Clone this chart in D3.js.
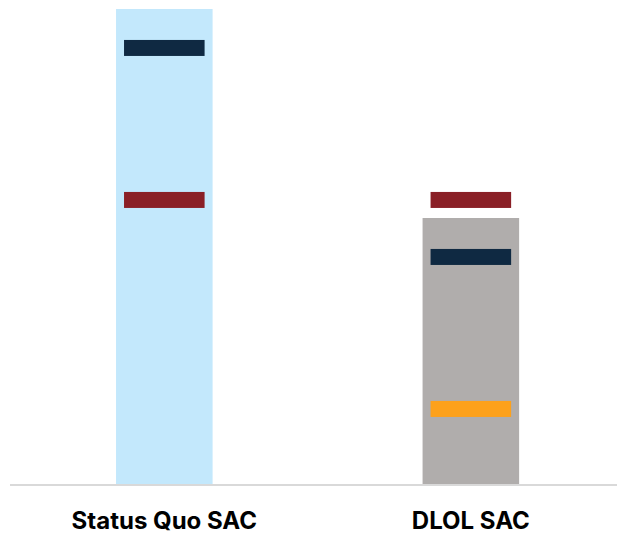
<!DOCTYPE html>
<html>
<head>
<meta charset="utf-8">
<script src="https://cdn.jsdelivr.net/npm/d3@7"></script>
<style>
  html, body { margin: 0; padding: 0; background: #ffffff; }
  svg { display: block; }
</style>
</head>
<body>
<svg id="chart" width="617" height="534"></svg>
<script>
// Scenario categories and their total bar heights
const categories = ["Status Quo SAC", "DLOL SAC"];
const barValues = [100, 56];
const barColors = ["#c3e8fc", "#b0adac"];

// Marker series drawn as short horizontal bands across each bar
const markerNames = ["navy", "red", "orange"];
const navyMarkers = [91.8, 47.8];
const redMarkers = [59.8, 59.8];
const orangeMarkers = [null, 15.8];
const markerColors = { navy: "#0f2942", red: "#8a1f26", orange: "#fda11b" };

const svg = d3.select("#chart");
const plotTop = 9;
const plotBottom = 484;

const x = d3.scaleBand()
  .domain(categories)
  .range([10, 617])
  .paddingInner(0.685)
  .paddingOuter(0.3326)
  .align(0.52);

const y = d3.scaleLinear()
  .domain([0, 100])
  .range([plotBottom, plotTop]);

// Bars
svg.append("g")
  .selectAll("rect")
  .data(categories.map((c, i) => ({ c, v: barValues[i], color: barColors[i] })))
  .join("rect")
  .attr("x", d => x(d.c))
  .attr("width", x.bandwidth())
  .attr("y", d => y(d.v))
  .attr("height", d => y(0) - y(d.v))
  .attr("fill", d => d.color);

// Markers
const markerData = [];
const series = { navy: navyMarkers, red: redMarkers, orange: orangeMarkers };
markerNames.forEach(name => {
  series[name].forEach((v, i) => {
    if (v !== null) markerData.push({ name, c: categories[i], v });
  });
});
const markerHalf = 8;
const inset = 8;
svg.append("g")
  .selectAll("rect")
  .data(markerData)
  .join("rect")
  .attr("x", d => x(d.c) + inset)
  .attr("width", x.bandwidth() - 2 * inset)
  .attr("y", d => y(d.v) - markerHalf)
  .attr("height", markerHalf * 2)
  .attr("fill", d => markerColors[d.name]);

// Category axis
const axis = svg.append("g")
  .attr("transform", `translate(0,${plotBottom + 1})`)
  .call(d3.axisBottom(x).tickSize(0));
axis.select(".domain")
  .attr("d", "M10,0H617")
  .attr("stroke", "#d9d9d9")
  .attr("stroke-width", 2);
axis.selectAll("text")
  .attr("y", 44.3)
  .attr("dy", null)
  .attr("font-family", "Inter, Roboto, sans-serif")
  .attr("font-weight", 700)
  .attr("font-size", 24)
  .attr("fill", "#000000");
</script>
</body>
</html>
